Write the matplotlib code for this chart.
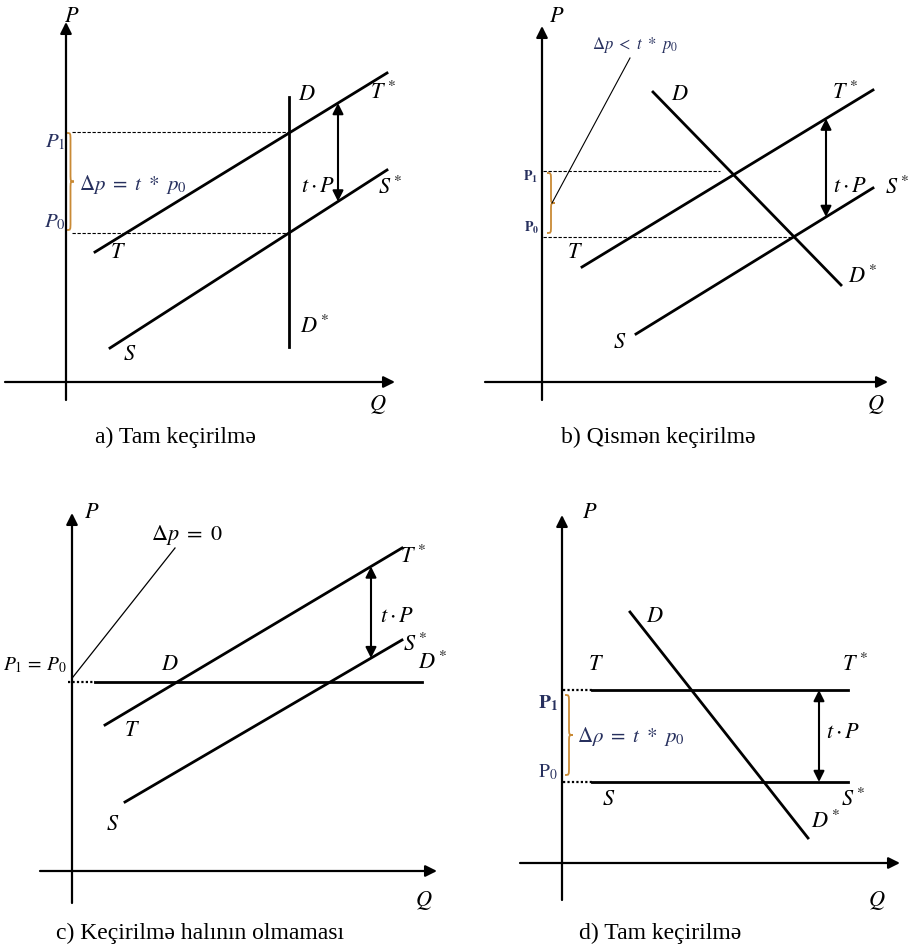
import numpy as np
import matplotlib
matplotlib.use('Agg')
import matplotlib.pyplot as plt
from matplotlib.path import Path
from matplotlib.patches import PathPatch

plt.rcParams['font.family'] = ['Liberation Serif', 'DejaVu Serif']
plt.rcParams['mathtext.fontset'] = 'stix'

W, H = 911, 947
INK = 'black'
BRACE_COLOR = '#c98a35'
FORMULA_COLOR = '#27305e'

# --- a) Tam keçirilmə: vertical demand
A_T_Q = [29, 321]
A_T_P = [130, 309]
A_S_Q = [44, 321]
A_S_P = [34, 212]
A_D_Q = [223, 223]
A_D_P = [285, 35]
A_P1 = 250
A_P0 = 149
A_TAX_Q = 272

# --- b) Qismən keçirilmə: downward sloping demand
B_T_Q = [40, 331]
B_T_P = [115, 292]
B_S_Q = [94, 331]
B_S_P = [48, 194]
B_D_Q = [111, 299]
B_D_P = [290, 97]
B_P1 = 211
B_P0 = 145
B_TAX_Q = 284

# --- c) Keçirilmə halının olmaması: horizontal demand
C_T_Q = [33, 330]
C_T_P = [146, 323]
C_S_Q = [53, 330]
C_S_P = [69, 231]
C_D_Q = [23, 350]
C_D_P = [189, 189]
C_TAX_Q = 299

# --- d) Tam keçirilmə: horizontal supply
D_T_Q = [30, 286]
D_T_P = [173, 173]
D_S_Q = [30, 286]
D_S_P = [81, 81]
D_D_Q = [68, 246]
D_D_P = [251, 25]
D_TAX_Q = 257

CAPTIONS = ['a) Tam keçirilmə', 'b) Qismən keçirilmə',
            'c) Keçirilmə halının olmaması', 'd) Tam keçirilmə']

fig = plt.figure(figsize=(W / 100, H / 100), dpi=100)
fig.patch.set_facecolor('white')


def panel(box, origin):
    # box = (x0, y0, x1, y1) in pixels from the top-left, origin = axis crossing
    x0, y0, x1, y1 = box
    ox, oy = origin
    ax = fig.add_axes([x0 / W, 1 - y1 / H, (x1 - x0) / W, (y1 - y0) / H])
    ax.set_xlim(x0 - ox, x1 - ox)
    ax.set_ylim(oy - y1, oy - y0)
    ax.axis('off')
    return ax


def axes_arrows(ax, q_range, p_range):
    ax.annotate('', xy=(q_range[1], 0), xytext=(q_range[0], 0),
                arrowprops=dict(arrowstyle='-|>', color=INK, lw=1.6,
                                mutation_scale=17, shrinkA=0, shrinkB=0))
    ax.annotate('', xy=(0, p_range[1]), xytext=(0, p_range[0]),
                arrowprops=dict(arrowstyle='-|>', color=INK, lw=1.6,
                                mutation_scale=17, shrinkA=0, shrinkB=0))


def tax_arrow(ax, q, tq, tp, sq, sp):
    top = np.interp(q, tq, tp)
    bottom = np.interp(q, sq, sp)
    ax.annotate('', xy=(q, bottom), xytext=(q, top),
                arrowprops=dict(arrowstyle='<|-|>', color=INK, lw=1.5,
                                mutation_scale=16, shrinkA=0, shrinkB=0))


def brace(ax, q, p_low, p_high, w, color=BRACE_COLOR):
    h = p_high - p_low
    mid = (p_low + p_high) / 2
    r = min(0.12 * h, 8)
    verts = [(q, p_high),
             (q + w / 2, p_high), (q + w / 2, p_high), (q + w / 2, p_high - r),
             (q + w / 2, mid + r),
             (q + w / 2, mid), (q + w / 2, mid), (q + w, mid),
             (q + w / 2, mid), (q + w / 2, mid), (q + w / 2, mid - r),
             (q + w / 2, p_low + r),
             (q + w / 2, p_low), (q + w / 2, p_low), (q, p_low)]
    codes = [Path.MOVETO,
             Path.CURVE4, Path.CURVE4, Path.CURVE4,
             Path.LINETO,
             Path.CURVE4, Path.CURVE4, Path.CURVE4,
             Path.CURVE4, Path.CURVE4, Path.CURVE4,
             Path.LINETO,
             Path.CURVE4, Path.CURVE4, Path.CURVE4]
    ax.add_patch(PathPatch(Path(verts, codes), fill=False, edgecolor=color, lw=1.3))


def label(ax, q, p, s, size=16, color=INK):
    ax.text(q, p, s, fontsize=size, ha='center', va='center', color=color)


LW = 2.0
CAP_SIZE = 17

# ---------------- panel a
ax = panel((0, 0, 455, 460), (66, 382))
axes_arrows(ax, (-61, 329), (-18, 360))
ax.plot(A_T_Q, A_T_P, color=INK, lw=LW)
ax.plot(A_S_Q, A_S_P, color=INK, lw=LW)
ax.plot(A_D_Q, A_D_P, color=INK, lw=LW)
ax.plot([6, A_D_Q[0]], [A_P1, A_P1], color=INK, lw=0.8, ls=(0, (3, 1.5)))
ax.plot([6, A_D_Q[0]], [A_P0, A_P0], color=INK, lw=0.8, ls=(0, (3, 1.5)))
tax_arrow(ax, A_TAX_Q, A_T_Q, A_T_P, A_S_Q, A_S_P)
brace(ax, 1, A_P0 + 3, A_P1 - 1, 7)
ax.text(13, 197, r'$\Delta p\ =\ t\ *\ p_0$', fontsize=15, color=FORMULA_COLOR,
        ha='left', va='center')
label(ax, -11, 240, r'$P_1$', 15, FORMULA_COLOR)
label(ax, -11, 160, r'$P_0$', 15, FORMULA_COLOR)
label(ax, 52, 129, r'$T$')
label(ax, 317, 289, r'$T^*$')
label(ax, 64, 27, r'$S$')
label(ax, 324, 194, r'$S^*$')
label(ax, 241, 287, r'$D$')
label(ax, 249, 55, r'$D^*$')
label(ax, 252, 194, r'$t \cdot P$')
label(ax, 6, 364, r'$P$')
label(ax, 312, -23, r'$Q$')
ax.text(175 - 66, 382 - 437, CAPTIONS[0], fontsize=CAP_SIZE, ha='center', va='center')

# ---------------- panel b
ax = panel((455, 0, 911, 460), (542, 382))
axes_arrows(ax, (-57, 346), (-18, 356))
ax.plot(B_T_Q, B_T_P, color=INK, lw=LW)
ax.plot(B_S_Q, B_S_P, color=INK, lw=LW)
ax.plot(B_D_Q, B_D_P, color=INK, lw=LW)
ax.plot([1, 178], [B_P1, B_P1], color=INK, lw=0.8, ls=(0, (3, 1.5)))
ax.plot([1, 253], [B_P0, B_P0], color=INK, lw=0.8, ls=(0, (3, 1.5)))
tax_arrow(ax, B_TAX_Q, B_T_Q, B_T_P, B_S_Q, B_S_P)
brace(ax, 5, B_P0 + 4, B_P1 - 2, 8)
ax.plot([10, 88], [179, 324], color=INK, lw=0.8)
ax.text(93, 337, r'$\Delta p\ <\ t\ *\ p_0$', fontsize=12, color=FORMULA_COLOR,
        ha='center', va='center')
label(ax, -11, 205, r'$\mathbf{P_1}$', 10, FORMULA_COLOR)
label(ax, -10, 154, r'$\mathbf{P_0}$', 10, FORMULA_COLOR)
label(ax, 138, 287, r'$D$')
label(ax, 321, 105, r'$D^*$')
label(ax, 33, 129, r'$T$')
label(ax, 303, 289, r'$T^*$')
label(ax, 78, 39, r'$S$')
label(ax, 355, 194, r'$S^*$')
label(ax, 308, 194, r'$t \cdot P$')
label(ax, 15, 364, r'$P$')
label(ax, 334, -23, r'$Q$')
ax.text(658 - 542, 382 - 437, CAPTIONS[1], fontsize=CAP_SIZE, ha='center', va='center')

# ---------------- panel c
ax = panel((0, 470, 455, 947), (72, 871))
axes_arrows(ax, (-32, 365), (-32, 358))
ax.plot(C_T_Q, C_T_P, color=INK, lw=LW)
ax.plot(C_S_Q, C_S_P, color=INK, lw=LW)
ax.plot(C_D_Q, C_D_P, color=INK, lw=LW)
ax.plot([-4, C_D_Q[0]], [C_D_P[0], C_D_P[0]], color=INK, lw=1.6, ls=(0, (1, 1)))
ax.plot([1, 103], [194, 323], color=INK, lw=0.9)
tax_arrow(ax, C_TAX_Q, C_T_Q, C_T_P, C_S_Q, C_S_P)
ax.text(115, 336, r'$\Delta p\ =\ 0$', fontsize=16, ha='center', va='center')
ax.text(-69, 206, r'$P_1\,=\,P_0$', fontsize=14, ha='left', va='center')
label(ax, 60, 139, r'$T$')
label(ax, 341, 314, r'$T^*$')
label(ax, 41, 46, r'$S$')
label(ax, 343, 226, r'$S^*$')
label(ax, 98, 206, r'$D$')
label(ax, 361, 208, r'$D^*$')
label(ax, 325, 253, r'$t \cdot P$')
label(ax, 20, 357, r'$P$')
label(ax, 352, -29, r'$Q$')
ax.text(200 - 72, 871 - 933, CAPTIONS[2], fontsize=CAP_SIZE, ha='center', va='center')

# ---------------- panel d
ax = panel((455, 470, 911, 947), (562, 863))
axes_arrows(ax, (-42, 338), (-37, 348))
ax.plot(D_T_Q, D_T_P, color=INK, lw=LW)
ax.plot(D_S_Q, D_S_P, color=INK, lw=LW)
ax.plot(D_D_Q, D_D_P, color=INK, lw=LW)
ax.plot([1, D_T_Q[0]], [D_T_P[0], D_T_P[0]], color=INK, lw=1.6, ls=(0, (1, 1)))
ax.plot([1, D_S_Q[0]], [D_S_P[0], D_S_P[0]], color=INK, lw=1.6, ls=(0, (1, 1)))
tax_arrow(ax, D_TAX_Q, D_T_Q, D_T_P, D_S_Q, D_S_P)
brace(ax, 3, D_S_P[0] + 7, D_T_P[0] - 5, 8)
ax.text(15, 126, r'$\Delta \rho\ =\ t\ *\ p_0$', fontsize=15, color=FORMULA_COLOR,
        ha='left', va='center')
label(ax, -14, 160, r'$\mathbf{P_1}$', 14, FORMULA_COLOR)
label(ax, -14, 91, r'$\mathrm{P_0}$', 14, FORMULA_COLOR)
label(ax, 93, 245, r'$D$')
label(ax, 34, 198, r'$T$')
label(ax, 293, 198, r'$T^*$')
label(ax, 47, 63, r'$S$')
label(ax, 291, 63, r'$S^*$')
label(ax, 264, 41, r'$D^*$')
label(ax, 281, 130, r'$t \cdot P$')
label(ax, 28, 349, r'$P$')
label(ax, 315, -37, r'$Q$')
ax.text(660 - 562, 863 - 933, CAPTIONS[3], fontsize=CAP_SIZE, ha='center', va='center')

fig.savefig('out.png', dpi=100, facecolor='white')
